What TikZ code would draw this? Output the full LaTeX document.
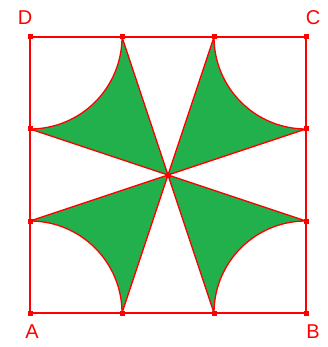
\documentclass[tikz,border=0pt]{standalone}
\usepackage{fontspec}
\setmainfont{Liberation Sans}
\definecolor{lred}{RGB}{255,0,0}
\definecolor{lgreen}{RGB}{34,176,76}
\begin{document}
\begin{tikzpicture}[x=1pt,y=-1pt,
  edge/.style={draw=lred,line width=1.6pt},
  petal/.style={fill=lgreen,draw=lred,line width=1.3pt,line join=round},
  mk/.style={fill=lred,minimum size=5pt,inner sep=0pt,draw=none,rectangle},
  lbl/.style={text=lred,font=\fontsize{20}{20}\selectfont,inner sep=0pt}]
\useasboundingbox (0,0) rectangle (328,347);
% points
\coordinate (D) at (30,37);
\coordinate (C) at (306,37);
\coordinate (A) at (30,313);
\coordinate (B) at (306,313);
\coordinate (T1) at (122,37);
\coordinate (T2) at (214,37);
\coordinate (L1) at (30,129);
\coordinate (L2) at (30,221);
\coordinate (R1) at (306,129);
\coordinate (R2) at (306,221);
\coordinate (B1) at (122,313);
\coordinate (B2) at (214,313);
\coordinate (O) at (168,175);
% petals
\path[petal] (O) -- (T1) arc[start angle=0,end angle=90,radius=92] -- cycle;
\path[petal] (O) -- (T2) arc[start angle=180,end angle=90,radius=92] -- cycle;
\path[petal] (O) -- (L2) arc[start angle=-90,end angle=0,radius=92] -- cycle;
\path[petal] (O) -- (B2) arc[start angle=180,end angle=270,radius=92] -- cycle;
% square
\draw[edge] (A) -- (B) -- (C) -- (D) -- cycle;
% markers
\foreach \p in {D,C,A,B,T1,T2,L1,L2,R1,R2,B1,B2,O}
  \node[mk] (m\p) at (\p) {};
% labels
\node[lbl] (lD) at (25,18) {D};
\node[lbl] (lC) at (313,18) {C};
\node[lbl] (lA) at (32,332) {A};
\node[lbl] (lB) at (313,332) {B};
\end{tikzpicture}
\end{document}
